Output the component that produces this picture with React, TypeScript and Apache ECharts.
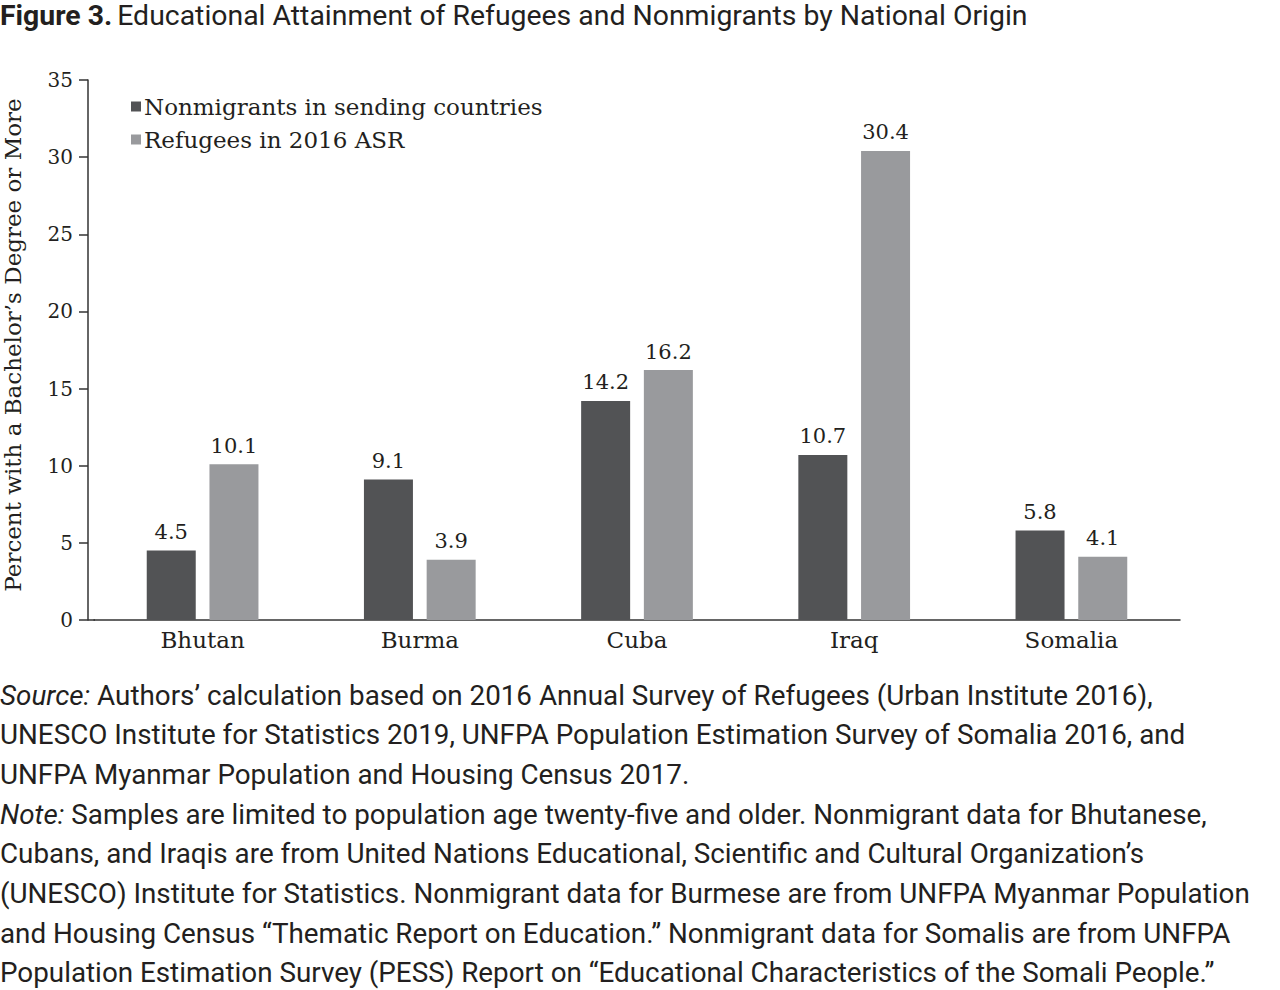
import React, { useEffect, useRef } from "react";
import * as echarts from "echarts";

const categories = ["Bhutan", "Burma", "Cuba", "Iraq", "Somalia"];
const nonmigrants = [4.5, 9.1, 14.2, 10.7, 5.8];
const refugees = [10.1, 3.9, 16.2, 30.4, 4.1];
const seriesNames = ["Nonmigrants in sending countries", "Refugees in 2016 ASR"];
const yTicks = { min: 0, max: 35, interval: 5 };

const titleBold = "Figure 3.";
const titleText = "Educational Attainment of Refugees and Nonmigrants by National Origin";
const yAxisName = "Percent with a Bachelor’s Degree or More";
const footLines = [
  "{i|Source:} Authors’ calculation based on 2016 Annual Survey of Refugees (Urban Institute 2016),",
  "UNESCO Institute for Statistics 2019, UNFPA Population Estimation Survey of Somalia 2016, and",
  "UNFPA Myanmar Population and Housing Census 2017.",
  "{i|Note:} Samples are limited to population age twenty-five and older. Nonmigrant data for Bhutanese,",
  "Cubans, and Iraqis are from United Nations Educational, Scientific and Cultural Organization’s",
  "(UNESCO) Institute for Statistics. Nonmigrant data for Burmese are from UNFPA Myanmar Population",
  "and Housing Census “Thematic Report on Education.” Nonmigrant data for Somalis are from UNFPA",
  "Population Estimation Survey (PESS) Report on “Educational Characteristics of the Somali People.”",
];

const DARK = "#525355";
const LIGHT = "#999a9d";
const SERIF = "'DejaVu Serif', serif";
const SANS = "Roboto, 'Liberation Sans', sans-serif";
const TEXT = "#231f20";

export default function App() {
  const ref = useRef<HTMLDivElement>(null);
  useEffect(() => {
    if (!ref.current) return;
    const chart = echarts.init(ref.current, null, { renderer: "svg" });
    const labelStyle = {
      show: true,
      position: "top" as const,
      distance: 8,
      fontFamily: SERIF,
      fontSize: 21,
      color: TEXT,
    };
    const footGraphics = footLines.map((line, i) => ({
      type: "text",
      x: 0,
      y: 695 + 39.7 * i,
      style: {
        text: line,
        fontFamily: SANS,
        fontSize: 27.8,
        lineHeight: 26,
        fill: TEXT,
        verticalAlign: "middle",
        align: "left",
        rich: {
          i: { fontFamily: SANS, fontStyle: "italic", fontSize: 27.8, lineHeight: 26, fill: TEXT },
        },
      },
    }));
    chart.setOption({
      animation: false,
      backgroundColor: "#ffffff",
      title: {
        text: `{b|${titleBold}} {r|${titleText}}`,
        left: 0,
        top: 2,
        padding: 0,
        textStyle: {
          lineHeight: 26,
          rich: {
            b: { fontFamily: SANS, fontWeight: "bold", fontSize: 28.4, lineHeight: 26, color: TEXT },
            r: { fontFamily: SANS, fontWeight: "normal", fontSize: 28.4, lineHeight: 26, color: TEXT },
          },
        },
      },
      legend: {
        orient: "vertical",
        left: 131,
        top: 95,
        padding: 0,
        icon: "rect",
        itemWidth: 10,
        itemHeight: 10,
        itemGap: 10,
        textStyle: { fontFamily: SERIF, fontSize: 23, color: TEXT, padding: [0, 0, 0, -2] },
        data: seriesNames,
      },
      grid: {
        left: 94,
        right: 100,
        top: 80,
        bottom: 370,
        containLabel: false,
        outerBoundsMode: "none",
      },
      xAxis: {
        type: "category",
        data: categories,
        axisLine: { lineStyle: { color: "#333", width: 1.5 } },
        axisTick: { show: false },
        axisLabel: { fontFamily: SERIF, fontSize: 23, color: TEXT, margin: 8 },
      },
      yAxis: {
        type: "value",
        min: yTicks.min,
        max: yTicks.max,
        interval: yTicks.interval,
        offset: 6,
        name: yAxisName,
        nameLocation: "middle",
        nameGap: 64,
        nameTextStyle: { fontFamily: SERIF, fontSize: 23, color: TEXT, padding: [0, 0, 0, 10] },
        axisLine: { show: true, lineStyle: { color: "#333", width: 1.5 } },
        axisTick: { show: true, length: 9, lineStyle: { color: "#333", width: 1.5 } },
        splitLine: { show: false },
        axisLabel: { fontFamily: SERIF, fontSize: 20, color: TEXT, margin: 15 },
      },
      series: [
        {
          name: seriesNames[0],
          type: "bar",
          data: nonmigrants,
          barWidth: 49,
          barGap: "28%",
          itemStyle: { color: DARK },
          label: labelStyle,
        },
        {
          name: seriesNames[1],
          type: "bar",
          data: refugees,
          barWidth: 49,
          barGap: "28%",
          itemStyle: { color: LIGHT },
          label: labelStyle,
        },
      ],
      graphic: [
        {
          type: "line",
          shape: { x1: 88, y1: 620, x2: 95, y2: 620 },
          style: { stroke: "#333", lineWidth: 1.5 },
        },
        ...footGraphics,
      ],
    });
    return () => chart.dispose();
  }, []);
  return (
    <div
      ref={ref}
      style={{ position: "absolute", left: 0, top: 0, width: 1280, height: 990 }}
    />
  );
}
